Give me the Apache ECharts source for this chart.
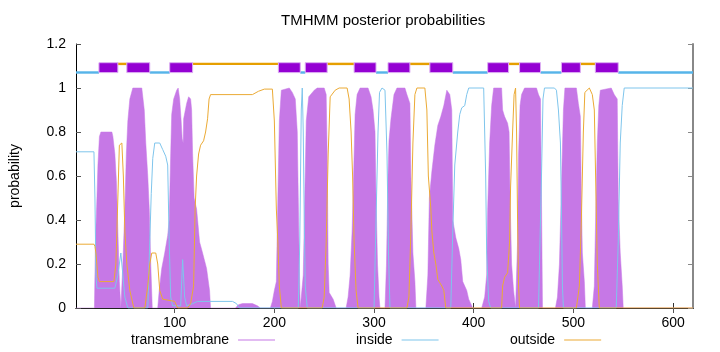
<!DOCTYPE html>
<html>
<head>
<meta charset="utf-8">
<script src="https://cdn.jsdelivr.net/npm/echarts@6/dist/echarts.min.js"></script>
<style>
  html, body { margin: 0; padding: 0; background: #fff; }
  #chart { width: 720px; height: 352px; }
</style>
</head>
<body>
<div id="chart"></div>
<script>
// posterior probabilities, [position, value]
var tmProb = [
  [1, 0], [19.5, 0], [20.5, 0.3], [22, 0.5], [23, 0.65], [24.5, 0.78], [26, 0.8], [37, 0.8], [38, 0.78],
  [40, 0.7], [41.5, 0.58], [43, 0.35], [44.5, 0.12], [46, 0], [48, 0.2], [50, 0.45], [51.5, 0.7],
  [53, 0.85], [55, 0.95], [58, 1.0], [67, 1.0], [69.5, 0.9], [71, 0.75], [73, 0.6], [74.5, 0.45],
  [76, 0.2], [77.5, 0], [83, 0], [84.5, 0.08], [87, 0.18], [90, 0.25], [93, 0.33], [94.5, 0.4],
  [96, 0.7], [97, 0.88], [99, 0.95], [102, 0.99], [103.5, 1.0], [105, 0.95], [106.5, 0.85],
  [107.5, 0.77], [108.5, 0.75], [109, 0.86], [112, 0.93], [114, 0.96], [116, 0.95], [117, 0.9],
  [118, 0.7], [119.5, 0.5], [122, 0.45], [125, 0.3], [128, 0.25], [132, 0.18], [135, 0.08], [136, 0],
  [161, 0], [164, 0.015], [168, 0.02], [178, 0.02], [183, 0.01], [186, 0],
  [196, 0], [198, 0.03], [200, 0.08], [202, 0.12], [203.5, 0.5], [205, 0.85], [207, 0.99], [215, 1.0],
  [218, 0.98], [221, 0.95], [223, 0.8], [224, 0.5], [225, 0.2], [226, 0], [227, 0], [229, 0.15],
  [230.5, 0.5], [232, 0.85], [234.5, 0.96], [240, 0.99], [243, 1.0], [250, 1.0], [252, 0.97],
  [253, 0.7], [254, 0.2], [255, 0.07], [259, 0.04], [262, 0],
  [272, 0], [274, 0.05], [276, 0.15], [278, 0.35], [279.5, 0.6], [281, 0.88], [283, 0.97], [286, 1.0],
  [294, 1.0], [297, 0.96], [299, 0.9], [301, 0.8], [302, 0.5], [303.5, 0.2], [305, 0.05], [306, 0],
  [311, 0], [312.5, 0.2], [314, 0.6], [315, 0.76], [317, 0.86], [320, 0.97], [323, 1.0], [331, 1.0],
  [333, 0.97], [336, 0.93], [337, 0.6], [339, 0.25], [341, 0.12], [342, 0],
  [352, 0], [354, 0.15], [355.5, 0.5], [358, 0.62], [361, 0.74], [364, 0.83], [367, 0.87], [370, 0.92],
  [373, 0.99], [376, 0.97], [378, 0.9], [379, 0.4], [382, 0.32], [385, 0.27], [387, 0.22], [389, 0.12],
  [393, 0.08], [395, 0.04], [399, 0],
  [408, 0], [411, 0.05], [413, 0.15], [414, 0.45], [416, 0.75], [418, 0.92], [420, 1.0], [428, 1.0],
  [429, 0.9], [431, 0.87], [434, 0.84], [435.5, 0.8], [436.5, 0.5], [438, 0.2], [440, 0.08], [442, 0],
  [443, 0], [444, 0.3], [445, 0.7], [446.5, 0.92], [448, 0.97], [451, 1.0], [463, 1.0], [465, 0.97],
  [467, 0.95], [468, 0.5], [469, 0],
  [482, 0], [484, 0.05], [486, 0.2], [488, 0.55], [490, 0.9], [491.5, 1.0], [503, 1.0], [505, 0.93],
  [507, 0.87], [508, 0.5], [509, 0.25], [511, 0.12], [512, 0],
  [519, 0], [521, 0.1], [522.5, 0.45], [524, 0.75], [525.5, 0.92], [527, 0.99], [538, 1.0], [541, 0.97],
  [544, 0.95], [545, 0.5], [547, 0.25], [549, 0.1], [550, 0], [620, 0]
];

var insideProb = [
  [1, 0.71], [19, 0.71], [20, 0.5], [21, 0.15], [22, 0.09], [40, 0.09], [43, 0.15], [46, 0.25],
  [48, 0.15], [50, 0.05], [53, 0], [73, 0], [75, 0.3], [76.5, 0.52], [78, 0.68], [80, 0.75], [85, 0.75],
  [88, 0.72], [91, 0.69], [93, 0.65], [94.5, 0.3], [96, 0.05], [98, 0.01], [106, 0.01], [108, 0.22],
  [110, 0.05], [112, 0.01], [118, 0.02], [123, 0.03], [158, 0.03], [162, 0.02], [165, 0],
  [224, 0], [225.5, 0.3], [227, 0.9], [228, 1.0], [229, 0.8], [230, 0.4], [231, 0.1], [233, 0],
  [300, 0], [302, 0.4], [304, 0.8], [305.5, 0.98], [308, 1.0], [311, 0.99], [313, 0.7], [314.5, 0.25], [316, 0],
  [377, 0], [379, 0.35], [381, 0.65], [384, 0.8], [386, 0.88], [388, 0.91], [391, 0.92], [393, 0.97],
  [395, 1.0], [410, 1.0], [412, 0.6], [413, 0.25], [415, 0.03], [417, 0],
  [465, 0], [466.5, 0.3], [468, 0.6], [469.5, 0.95], [471, 1.0], [481, 1.0], [483, 0.99], [485, 0.9],
  [487, 0.75], [488, 0.45], [489, 0.1], [490, 0],
  [543, 0], [545, 0.3], [547, 0.75], [549, 0.92], [551, 1.0], [620, 1.0]
];

var outsideProb = [
  [1, 0.29], [19, 0.29], [20, 0.28], [21, 0.25], [23, 0.14], [24.5, 0.12], [39, 0.12], [41, 0.2],
  [43, 0.5], [44.5, 0.74], [47, 0.75], [48.5, 0.6], [50, 0.35], [52, 0.2], [55, 0.08], [59, 0],
  [70, 0], [73, 0.1], [75, 0.2], [77, 0.25], [81, 0.25], [83, 0.2], [85, 0.08], [88, 0.04], [100, 0.03],
  [103, 0], [113, 0], [116, 0.02], [119, 0.1], [120.5, 0.45], [122, 0.6], [124, 0.7], [126, 0.74],
  [129, 0.76], [131, 0.8], [133, 0.86], [134.5, 0.95], [136, 0.97], [178, 0.97], [184, 0.985],
  [190, 0.995], [198, 0.995], [200, 0.85], [202, 0.45], [203.5, 0.3], [205, 0.1], [207, 0],
  [248, 0], [250, 0.05], [252, 0.3], [254, 0.7], [256, 0.96], [261, 0.99], [265, 1.0], [273, 1.0],
  [275, 0.95], [277, 0.8], [278.5, 0.6], [280, 0.3], [282, 0.08], [284, 0],
  [333, 0], [335, 0.05], [337, 0.35], [339, 0.75], [341, 0.97], [343, 1.0], [351, 1.0], [353, 0.9],
  [354.5, 0.6], [357, 0.45], [358, 0.35], [360, 0.25], [362, 0.2], [364, 0.13], [368, 0.1], [370, 0.08], [372, 0],
  [428, 0], [429, 0.1], [431, 0.14], [434, 0.16], [436, 0.3], [437, 0.55], [439, 0.8], [440.5, 0.97],
  [442, 1.0], [443, 0.8], [444, 0.4], [445, 0.1], [446, 0],
  [503, 0], [506, 0.1], [508, 0.4], [510, 0.8], [511.5, 0.98], [516, 1.0], [519, 0.97], [521, 0.9],
  [522.5, 0.55], [524, 0.2], [526, 0], [620, 0]
];

// predicted topology, [start, end]
var tmSegs = [[24, 43], [52, 75], [95, 118], [204, 226], [231, 253], [280, 302], [314, 336],
  [356, 379], [414, 435], [446, 467], [488, 507], [522, 545]];
var insideSegs = [[1, 24], [75, 95], [226, 231], [302, 314], [379, 414], [467, 488], [545, 620]];
var outsideSegs = [[43, 52], [118, 204], [253, 280], [336, 356], [435, 446], [507, 522]];

var xTicks = [100, 200, 300, 400, 500, 600];

var FONT = 'Liberation Sans, Arial, sans-serif';
var C_TM = '#c678e6', C_IN = '#7fc5ec', C_OUT = '#ebaa35';

var topo = [];
tmSegs.forEach(function (s) { topo.push([s[0], s[1], 0]); });
insideSegs.forEach(function (s) { topo.push([s[0], s[1], 1]); });
outsideSegs.forEach(function (s) { topo.push([s[0], s[1], 2]); });

function renderTopo(params, api) {
  var kind = api.value(2);
  var lo, hi, style;
  if (kind === 0) {
    lo = 1.07; hi = 1.115;
    style = { fill: '#9400d3', stroke: '#dcaef2', lineWidth: 1 };
  } else if (kind === 1) {
    lo = 1.065; hi = 1.076;
    style = { fill: '#56b4e9' };
  } else {
    lo = 1.104; hi = 1.115;
    style = { fill: '#e69f00' };
  }
  var p1 = api.coord([api.value(0), hi]);
  var p2 = api.coord([api.value(1), lo]);
  return {
    type: 'rect',
    shape: { x: p1[0], y: p1[1], width: p2[0] - p1[0], height: p2[1] - p1[1] },
    style: style,
    z2: kind === 0 ? 2 : 1
  };
}

function legendFor(name, left) {
  return {
    data: [name], left: left, top: 333, padding: 0, align: 'right',
    icon: 'rect', itemWidth: 37, itemHeight: 1,
    textStyle: { fontSize: 14, color: '#000', fontFamily: FONT, padding: [0, 4, 0, 0] }
  };
}

var chart = echarts.init(document.getElementById('chart'));
chart.setOption({
  animation: false,
  backgroundColor: '#fff',
  title: {
    text: 'TMHMM posterior probabilities',
    left: 281, top: 13, padding: 0,
    textStyle: { fontSize: 15, fontWeight: 'normal', color: '#000', fontFamily: FONT }
  },
  legend: [legendFor('transmembrane', 131), legendFor('inside', 356), legendFor('outside', 510)],
  grid: { left: 73, right: 27, top: 44, bottom: 44 },
  xAxis: [{
    type: 'value', min: 1, max: 620, position: 'bottom',
    axisLine: { lineStyle: { color: '#000', width: 1 } },
    axisTick: { inside: true, length: 5, customValues: xTicks, lineStyle: { color: '#333' } },
    axisLabel: { customValues: xTicks, fontSize: 14, color: '#000', fontFamily: FONT, margin: 8 },
    splitLine: { show: false }
  }, {
    type: 'value', min: 1, max: 620, position: 'top',
    axisLine: { lineStyle: { color: '#222', width: 1 } },
    axisTick: { inside: true, length: 5, customValues: xTicks, lineStyle: { color: '#555' } },
    axisLabel: { show: false },
    splitLine: { show: false }
  }],
  yAxis: [{
    type: 'value', min: 0, max: 1.2, interval: 0.2, position: 'left',
    name: 'probability', nameLocation: 'middle', nameGap: 54,
    nameTextStyle: { fontSize: 14, color: '#000', fontFamily: FONT },
    axisLine: { show: true, lineStyle: { color: '#000', width: 1 } },
    axisTick: { inside: true, length: 5, lineStyle: { color: '#555' } },
    axisLabel: { fontSize: 14, color: '#000', fontFamily: FONT, margin: 10 },
    splitLine: { show: false }
  }, {
    type: 'value', min: 0, max: 1.2, interval: 0.2, position: 'right',
    axisLine: { show: true, lineStyle: { color: '#888', width: 2 } },
    axisTick: { inside: true, length: 5, lineStyle: { color: '#888' } },
    axisLabel: { show: false },
    splitLine: { show: false }
  }],
  series: [{
    name: 'transmembrane', type: 'line', data: tmProb, symbol: 'none', z: 1,
    color: C_TM,
    lineStyle: { color: C_TM, width: 0.5 },
    areaStyle: { color: C_TM, opacity: 1 }
  }, {
    name: 'inside', type: 'line', data: insideProb, symbol: 'none', z: 3,
    color: C_IN,
    lineStyle: { color: C_IN, width: 1 }
  }, {
    name: 'outside', type: 'line', data: outsideProb, symbol: 'none', z: 3,
    color: C_OUT,
    lineStyle: { color: C_OUT, width: 1 }
  }, {
    name: 'topology', type: 'custom', data: topo, renderItem: renderTopo, z: 4,
    clip: false, encode: { x: [0, 1], y: 2 }
  }]
});
</script>
</body>
</html>
